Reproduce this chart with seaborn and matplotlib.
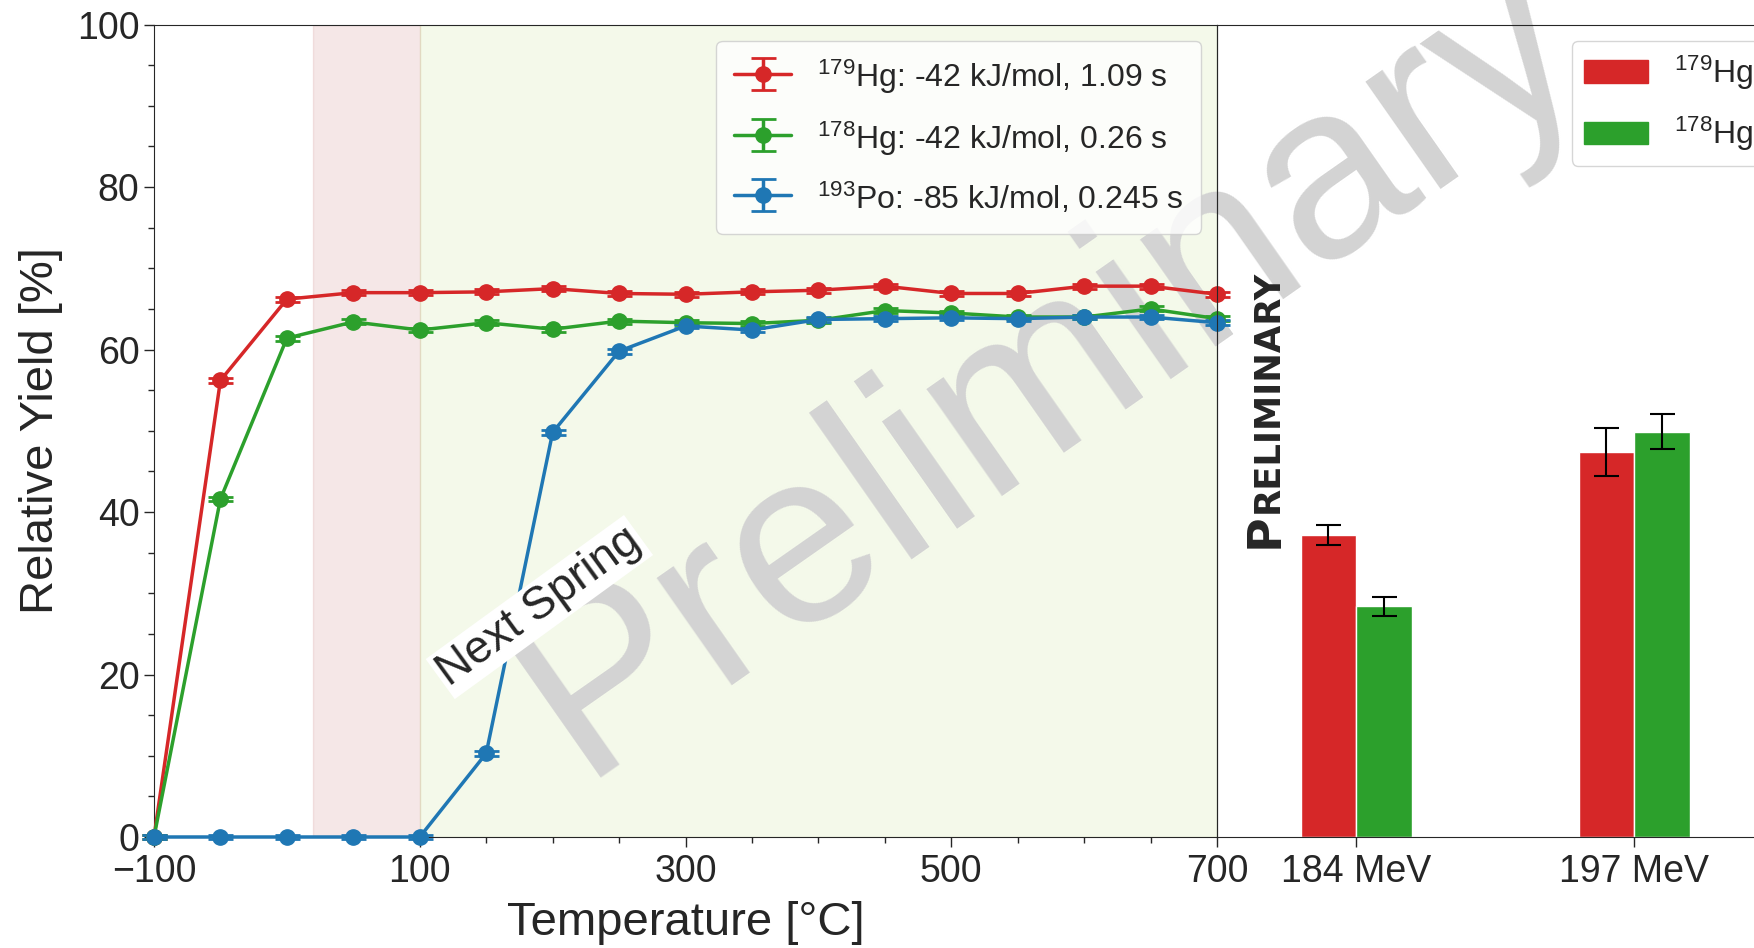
# Rendimiento relativo frente a temperatura (izquierda) y por energía del haz (derecha)
import matplotlib
matplotlib.use("Agg")
import pandas as pd
import seaborn as sns
import matplotlib.pyplot as plt
from matplotlib.patches import Patch
from matplotlib.ticker import MultipleLocator

# Datos
temperatura = [-100, -50, 0, 50, 100, 150, 200, 250, 300, 350, 400, 450, 500, 550, 600, 650, 700]
hg179 = [0.0, 56.2, 66.2, 67.0, 67.0, 67.1, 67.5, 66.9, 66.8, 67.1, 67.3, 67.8, 66.9, 66.9, 67.8, 67.8, 66.8]
hg178 = [0.0, 41.6, 61.4, 63.4, 62.4, 63.3, 62.5, 63.5, 63.3, 63.2, 63.6, 64.8, 64.5, 64.0, 64.0, 65.0, 63.8]
po193 = [0.0, 0.0, 0.0, 0.0, 0.0, 10.3, 49.8, 59.8, 62.9, 62.4, 63.7, 63.8, 63.9, 63.8, 64.0, 64.0, 63.3]
err_puntos = [0.3] * len(temperatura)

energias = ["184 MeV", "184 MeV", "197 MeV", "197 MeV"]
isotopos = ["$^{179}$Hg", "$^{178}$Hg", "$^{179}$Hg", "$^{178}$Hg"]
rend_barras = [37.2, 28.4, 47.4, 49.9]
err_barras = [1.2, 1.2, 3.0, 2.2]

etiquetas = [
    "$^{179}$Hg: -42 kJ/mol, 1.09 s",
    "$^{178}$Hg: -42 kJ/mol, 0.26 s",
    "$^{193}$Po: -85 kJ/mol, 0.245 s",
]

rojo, verde, azul = "#d62728", "#2ca02c", "#1f77b4"

sns.set_style("ticks")
plt.rcParams["font.family"] = ["Liberation Sans", "DejaVu Sans"]
plt.rcParams["mathtext.fontset"] = "custom"
plt.rcParams["mathtext.rm"] = "Liberation Sans"
plt.rcParams["mathtext.default"] = "regular"
plt.rcParams["axes.edgecolor"] = "0.15"

fig = plt.figure(figsize=(17.54, 9.48), dpi=100)
ax1 = fig.add_axes([0.0878, 0.1171, 0.6061, 0.857])
ax2 = fig.add_axes([0.6939, 0.1171, 0.317, 0.857])
ax2.set_facecolor("none")

# zonas sombreadas
ax1.axvspan(20, 100, color="brown", alpha=0.11, zorder=1)
ax1.axvspan(100, 700, color="yellowgreen", alpha=0.1, zorder=1)

for y, c, lab in zip([hg179, hg178, po193], [rojo, verde, azul], etiquetas):
    ax1.errorbar(temperatura, y, yerr=err_puntos, fmt="-o", color=c, ms=11, lw=2.5,
                 capsize=9, capthick=2, label=lab, clip_on=False, zorder=3)

ax1.set_xlim(-100, 700)
ax1.set_ylim(0, 100)
ax1.set_xticks([-100, 100, 300, 500, 700])
ax1.xaxis.set_minor_locator(MultipleLocator(50))
ax1.set_yticks([0, 20, 40, 60, 80, 100])
ax1.yaxis.set_minor_locator(MultipleLocator(5))
ax1.tick_params(which="major", labelsize=27, length=7, width=1, direction="out")
ax1.tick_params(axis="x", which="major", pad=5)
ax1.tick_params(which="minor", length=4, width=1, direction="out")
ax1.set_xlabel("Temperature [°C]", fontsize=34, labelpad=8)
ax1.set_ylabel("Relative Yield [%]", fontsize=34, labelpad=10)
ax1.legend(loc="upper right", fontsize=23, labelspacing=0.72, borderpad=0.55,
           handlelength=1.8, handleheight=1.2)

ax1.text(190, 28.3, "Next Spring", rotation=36, ha="center", va="center", fontsize=33,
         bbox=dict(facecolor="white", edgecolor="none", pad=2), zorder=4)

# marca de agua
ax1.text(0.331, 0.18, "Preliminary", transform=fig.transFigure, rotation=35,
         rotation_mode="anchor", ha="left", va="baseline", fontsize=178,
         color="#d3d3d3", zorder=1.5, clip_on=False)

# barras
df = pd.DataFrame({"energia": energias, "isotopo": isotopos, "rend": rend_barras})
sns.barplot(data=df, x="energia", y="rend", hue="isotopo", ax=ax2, width=0.4,
            palette=[rojo, verde], saturation=1, errorbar=None, legend=False)
centros = [-0.1, 0.1, 0.9, 1.1]
ax2.errorbar(centros, rend_barras, yerr=err_barras, fmt="none", ecolor="black",
             elinewidth=1.5, capsize=9, capthick=1.5)
ax2.set_xlim(-0.5, 1.5)
ax2.set_ylim(0, 100)
ax2.set_yticks([])
ax2.set_xlabel("")
ax2.set_ylabel("")
ax2.tick_params(axis="x", labelsize=27, length=7, width=1, direction="out", pad=5)
ax2.legend(handles=[Patch(color=rojo, label="$^{179}$Hg"), Patch(color=verde, label="$^{178}$Hg")],
           loc="upper right", fontsize=23, labelspacing=0.72, bbox_to_anchor=(1.016, 1.0))

# PRELIMINARY en versalitas
fig.text(1278 / 1754, 1 - 548 / 948, "P", rotation=90, rotation_mode="anchor",
         ha="left", va="baseline", fontsize=34, fontweight="bold", family="DejaVu Sans")
fig.text(1278 / 1754, 1 - 513 / 948, "RELIMINARY", rotation=90, rotation_mode="anchor",
         ha="left", va="baseline", fontsize=25.5, fontweight="bold", family="DejaVu Sans")

fig.savefig("out.png", dpi=100)
